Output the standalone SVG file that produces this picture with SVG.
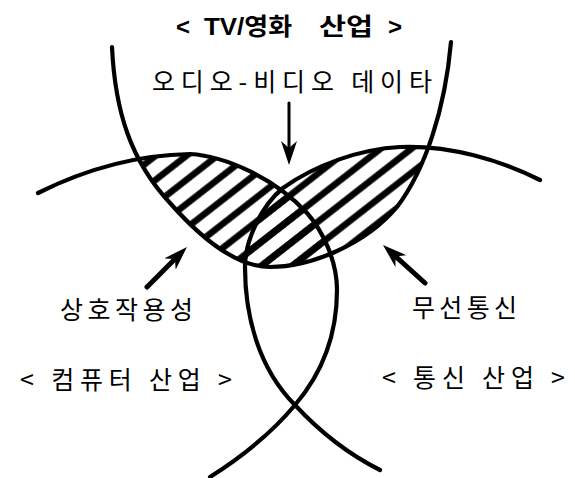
<svg xmlns="http://www.w3.org/2000/svg" width="575" height="478" viewBox="0 0 575 478">
<style>
.curve{fill:none;stroke:#000;stroke-width:4.2;stroke-linecap:round}
.shaft{fill:none;stroke:#000;stroke-linecap:round}
.lbl{font-family:"Noto Sans CJK KR","Liberation Sans",sans-serif;font-size:25px;fill:#000}
.ttl{font-family:"Liberation Sans","Noto Sans CJK KR",sans-serif;font-size:24px;font-weight:bold;fill:#000}
</style>
<defs>
<pattern id="hatch" patternUnits="userSpaceOnUse" width="40" height="19" patternTransform="rotate(-38)">
<line x1="0" y1="9.5" x2="40" y2="9.5" stroke="#000" stroke-width="6.5"/>
</pattern>
<clipPath id="tvclip">
<path d="M112,47 C115,110 130,160 170,203 C200,237 235,267 270,267 C310,267 365,245 397,207 C425,170 445,110 451,42 Z"/>
</clipPath>
<marker id="ah" viewBox="0 0 24 16" refX="14" refY="8" markerWidth="24" markerHeight="16" markerUnits="userSpaceOnUse" orient="auto">
<path d="M24,8 L0,0 L7,8 L0,16 Z" fill="#000"/>
</marker>
</defs>
<rect width="575" height="478" fill="#fff"/>
<g id="hatching" clip-path="url(#tvclip)">
<path d="M38,193 C80,172 130,155 190,154 C225,156 275,178 307,213 C322,230 337,260 337,290 C337,330 325,370 295,405 C270,435 240,458 210,477 L0,478 L0,193 Z" fill="url(#hatch)"/>
<path d="M540,180 C500,160 450,145 400,147 C360,149 315,165 283,188 C262,205 245,240 245,267 C245,315 258,368 295,405 C320,432 350,455 380,470 L575,478 L575,180 Z" fill="url(#hatch)"/>
</g>
<g id="tv-industry">
<path class="curve" d="M112,47 C115,110 130,160 170,203 C200,237 235,267 270,267 C310,267 365,245 397,207 C425,170 445,110 451,42"/>
<text class="ttl" x="176" y="35">&lt;</text>
<text class="ttl" x="204" y="35" textLength="88" lengthAdjust="spacingAndGlyphs">TV/영화</text>
<text class="ttl" x="319" y="35" textLength="54" lengthAdjust="spacingAndGlyphs">산업</text>
<text class="ttl" x="388" y="35">&gt;</text>
</g>
<g id="computer-industry">
<path class="curve" d="M38,193 C80,172 130,155 190,154 C225,156 275,178 307,213 C322,230 337,260 337,290 C337,330 325,370 295,405 C270,435 240,458 210,477"/>
<text class="lbl" x="20" y="389" textLength="212" lengthAdjust="spacing">&lt; 컴퓨터 산업 &gt;</text>
</g>
<g id="telecom-industry">
<path class="curve" d="M540,180 C500,160 450,145 400,147 C360,149 315,165 283,188 C262,205 245,240 245,267 C245,315 258,368 295,405 C320,432 350,455 380,470"/>
<text class="lbl" x="382" y="387" textLength="183" lengthAdjust="spacing">&lt; 통신 산업 &gt;</text>
</g>
<g id="av-data">
<text class="lbl" x="152" y="91" textLength="280" lengthAdjust="spacing">오디오-비디오 데이타</text>
</g>
<g id="interactivity">
<text class="lbl" x="60" y="319" textLength="133" lengthAdjust="spacing">상호작용성</text>
</g>
<g id="wireless">
<text class="lbl" x="412" y="317" textLength="105" lengthAdjust="spacing">무선통신</text>
</g>
<g id="connectors">
<line class="shaft" x1="289" y1="103" x2="289" y2="155" stroke-width="3" marker-end="url(#ah)"/>
<line class="shaft" x1="147" y1="287" x2="179.9" y2="254.1" stroke-width="5" marker-end="url(#ah)"/>
<line class="shaft" x1="425" y1="283" x2="390.4" y2="251.7" stroke-width="5" marker-end="url(#ah)"/>
</g>
</svg>
